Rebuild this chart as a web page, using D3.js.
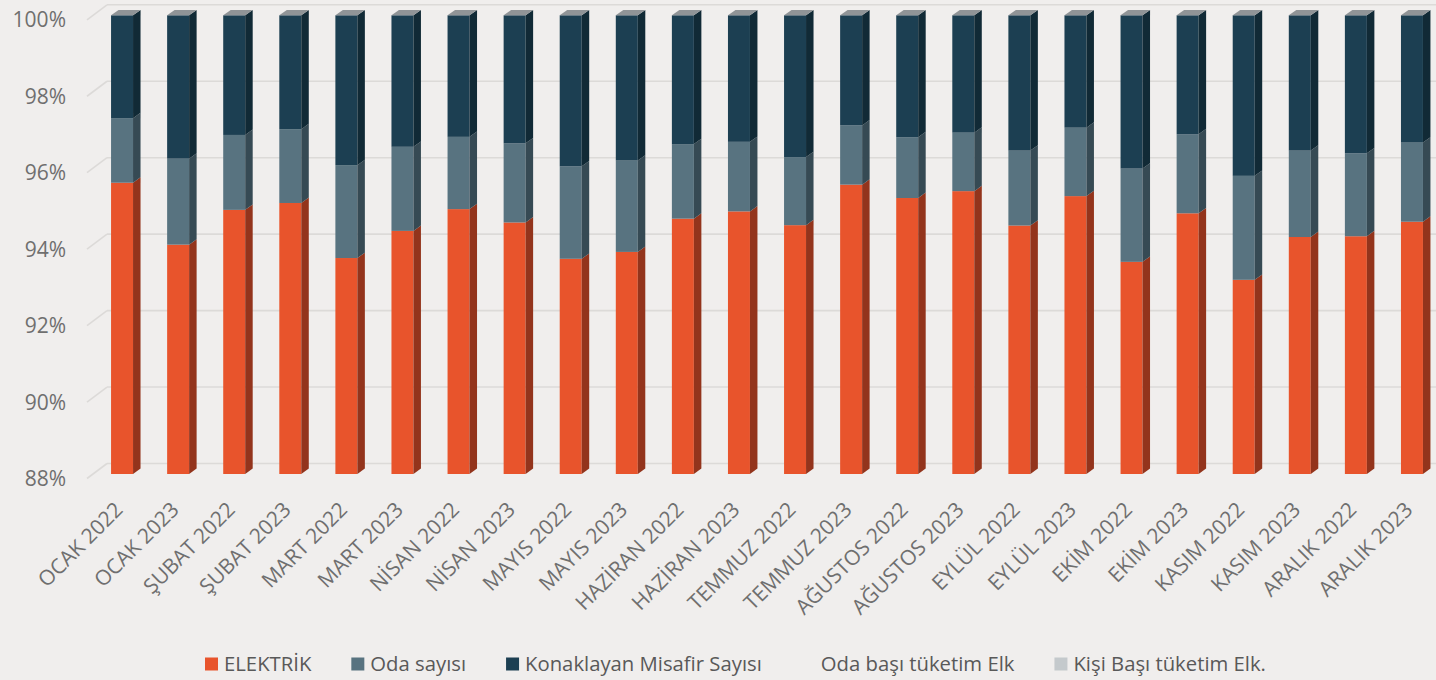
<!DOCTYPE html>
<html>
<head>
<meta charset="utf-8">
<script src="https://cdn.jsdelivr.net/npm/d3@7"></script>
<style>
  html, body { margin: 0; padding: 0; background: #f0eeed; }
  svg { display: block; font-family: "Open Sans", sans-serif; }
</style>
</head>
<body>
<svg id="chart" width="1436" height="680"></svg>
<script>
// months
const categories = [
  'OCAK 2022', 'OCAK 2023', 'ŞUBAT 2022', 'ŞUBAT 2023', 'MART 2022', 'MART 2023',
  'NİSAN 2022', 'NİSAN 2023', 'MAYIS 2022', 'MAYIS 2023', 'HAZİRAN 2022', 'HAZİRAN 2023',
  'TEMMUZ 2022', 'TEMMUZ 2023', 'AĞUSTOS 2022', 'AĞUSTOS 2023', 'EYLÜL 2022', 'EYLÜL 2023',
  'EKİM 2022', 'EKİM 2023', 'KASIM 2022', 'KASIM 2023', 'ARALIK 2022', 'ARALIK 2023'
];

// shares (%) of each stacked series
const elektrik = [95.62, 94.00, 94.91, 95.09, 93.65, 94.36, 94.93, 94.58, 93.63, 93.81, 94.68, 94.87,
  94.51, 95.57, 95.22, 95.40, 94.50, 95.27, 93.55, 94.82, 93.08, 94.20, 94.22, 94.60];
const odaSayisi = [1.69, 2.25, 1.96, 1.93, 2.43, 2.20, 1.89, 2.07, 2.42, 2.39, 1.95, 1.82,
  1.78, 1.55, 1.59, 1.53, 1.96, 1.79, 2.44, 2.07, 2.72, 2.26, 2.17, 2.07];
const misafir = [2.69, 3.75, 3.13, 2.98, 3.92, 3.44, 3.18, 3.35, 3.95, 3.80, 3.37, 3.31,
  3.71, 2.88, 3.19, 3.07, 3.54, 2.94, 4.01, 3.11, 4.20, 3.54, 3.61, 3.33];

const seriesNames = ['ELEKTRİK', 'Oda sayısı', 'Konaklayan Misafir Sayısı', 'Oda başı tüketim Elk', 'Kişi Başı tüketim Elk.'];
const yTicks = [0.88, 0.90, 0.92, 0.94, 0.96, 0.98, 1.00];

const front = ['#e8542c', '#587380', '#1c3f52'];
const side = ['#93341c', '#364a54', '#112a36'];
const legendColors = ['#e8542c', '#587380', '#1c3f52', 'none', '#c4c9cc'];

const svg = d3.select('#chart');

const rows = categories.map((c, i) => ({ cat: c, e: elektrik[i], o: odaSayisi[i], m: misafir[i] }));
const stack = d3.stack().keys(['e', 'o', 'm']).offset(d3.stackOffsetExpand);
const layers = stack(rows);

const x = d3.scaleBand()
  .domain(categories)
  .range([94, 1440])
  .paddingInner(0.608)
  .paddingOuter(0.304);

const y = d3.scaleLinear()
  .domain([0.88, 1])
  .range([474, 15.3])
  .clamp(true);

// depth of the bars and of the back wall
const bdx = 7.5, bdy = -5.4;
const wdx = 20, wdy = -15;
const fx = 87, fyOff = 4.5; // front edge of the side wall

// gridlines on the back wall + slanted side wall lines
const grid = svg.append('g');
yTicks.forEach(t => {
  const yf = y(t) + fyOff;
  grid.append('line')
    .attr('x1', fx + wdx).attr('x2', 1436)
    .attr('y1', yf + wdy).attr('y2', yf + wdy)
    .attr('stroke', '#dcdad8').attr('stroke-width', 1.6);
  grid.append('line')
    .attr('x1', fx).attr('x2', fx + wdx)
    .attr('y1', yf).attr('y2', yf + wdy)
    .attr('stroke', '#dcdad8').attr('stroke-width', 1.6);
});

// y labels
svg.append('g')
  .selectAll('text')
  .data(yTicks)
  .enter()
  .append('text')
  .attr('x', 66)
  .attr('y', d => y(d) + fyOff)
  .attr('dy', '0.36em')
  .attr('text-anchor', 'end')
  .attr('font-size', 21)
  .attr('fill', '#6f6f6f')
  .text(d3.format('.0%'));

// 3d bars
const bw = x.bandwidth();
layers.forEach((layer, k) => {
  const g = svg.append('g');
  layer.forEach((d, i) => {
    const x0 = x(categories[i]);
    const yTop = y(d[1]), yBot = y(d[0]);
    if (yBot - yTop <= 0) return;
    g.append('rect')
      .attr('x', x0).attr('y', yTop)
      .attr('width', bw).attr('height', yBot - yTop)
      .attr('fill', front[k]);
    g.append('path')
      .attr('d', `M${x0 + bw},${yTop} L${x0 + bw + bdx},${yTop + bdy} L${x0 + bw + bdx},${yBot + bdy} L${x0 + bw},${yBot} Z`)
      .attr('fill', side[k]);
  });
});

// top caps
svg.append('g')
  .selectAll('path')
  .data(layers[2])
  .enter()
  .append('path')
  .attr('d', (d, i) => {
    const x0 = x(categories[i]), yt = y(d[1]);
    return `M${x0},${yt} L${x0 + bdx},${yt + bdy} L${x0 + bw + bdx},${yt + bdy} L${x0 + bw},${yt} Z`;
  })
  .attr('fill', '#909497');

// x labels
svg.append('g')
  .selectAll('text')
  .data(categories)
  .enter()
  .append('text')
  .attr('transform', d => `translate(${x(d) + bw / 2 + 2},${511}) rotate(-45)`)
  .attr('text-anchor', 'end')
  .attr('font-size', 21)
  .attr('fill', '#6f6f6f')
  .text(d => d);

// legend
const legend = svg.append('g').attr('transform', 'translate(205,664)');
let lx = 0;
seriesNames.forEach((name, i) => {
  const item = legend.append('g').attr('transform', `translate(${lx},0)`);
  if (legendColors[i] !== 'none') {
    item.append('rect')
      .attr('x', 0).attr('y', -6.5)
      .attr('width', 13).attr('height', 13)
      .attr('fill', legendColors[i]);
  }
  const t = item.append('text')
    .attr('x', 19).attr('dy', '0.35em')
    .attr('font-size', 20.3)
    .attr('fill', '#595959')
    .text(name);
  lx += 19 + t.node().getComputedTextLength() + 40;
});
</script>
</body>
</html>
